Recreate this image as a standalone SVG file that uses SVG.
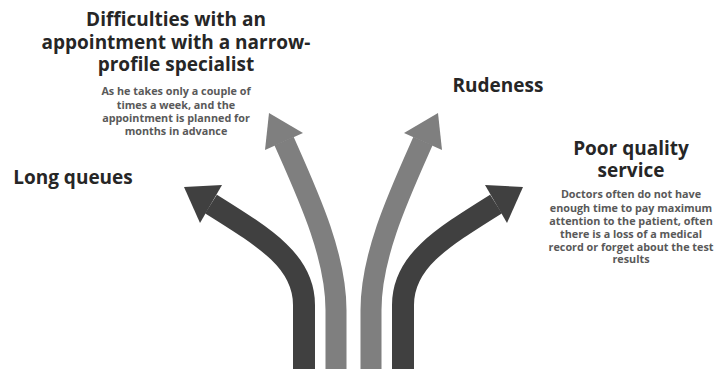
<svg xmlns="http://www.w3.org/2000/svg" width="714" height="369" viewBox="0 0 714 369">
<style>
.h{font-family:"Open Sans","Noto Sans",sans-serif;font-weight:700;font-size:19px;fill:#262626;text-anchor:middle}
.s{font-family:"Open Sans","Noto Sans",sans-serif;font-weight:700;font-size:10.8px;fill:#595959;text-anchor:middle}
.dk{fill:none;stroke:#404040;stroke-width:22}
.gr{fill:none;stroke:#7f7f7f;stroke-width:21}
.dkh{fill:#404040}
.grh{fill:#7f7f7f}
</style>
<rect width="714" height="369" fill="#fff"/>
<g id="connectors">
<g id="arrow-long-queues">
<path class="dk" d="M304,369 L304,305 C304,262 267,239 211,204"/>
<polygon class="dkh" points="184,187 222,185 200,223"/>
</g>
<g id="arrow-specialist">
<path class="gr" d="M336,369 L336,310 C336,255 308,195 284,141"/>
<polygon class="grh" points="269,113 303,133 265,150"/>
</g>
<g id="arrow-rudeness">
<path class="gr" d="M371,369 L371,310 C371,255 399,195 423,141"/>
<polygon class="grh" points="438,113 404,133 442,150"/>
</g>
<g id="arrow-poor-service">
<path class="dk" d="M403,369 L403,305 C403,262 440,239 496,204"/>
<polygon class="dkh" points="523,187 485,185 507,223"/>
</g>
</g>
<g id="node-specialist">
<text class="h" x="176" y="26">Difficulties with an</text>
<text class="h" x="176" y="49">appointment with a narrow-</text>
<text class="h" x="176" y="71">profile specialist</text>
<text class="s" x="176" y="95">As he takes only a couple of</text>
<text class="s" x="176" y="109">times a week, and the</text>
<text class="s" x="176" y="122">appointment is planned for</text>
<text class="s" x="176" y="135">months in advance</text>
</g>
<g id="node-long-queues">
<text class="h" x="73" y="184">Long queues</text>
</g>
<g id="node-rudeness">
<text class="h" x="498" y="92">Rudeness</text>
</g>
<g id="node-poor-service">
<text class="h" x="631" y="155">Poor quality</text>
<text class="h" x="631" y="177">service</text>
<text class="s" x="631" y="198">Doctors often do not have</text>
<text class="s" x="631" y="212">enough time to pay maximum</text>
<text class="s" x="631" y="225">attention to the patient, often</text>
<text class="s" x="631" y="238">there is a loss of a medical</text>
<text class="s" x="631" y="251">record or forget about the test</text>
<text class="s" x="631" y="263">results</text>
</g>
</svg>
